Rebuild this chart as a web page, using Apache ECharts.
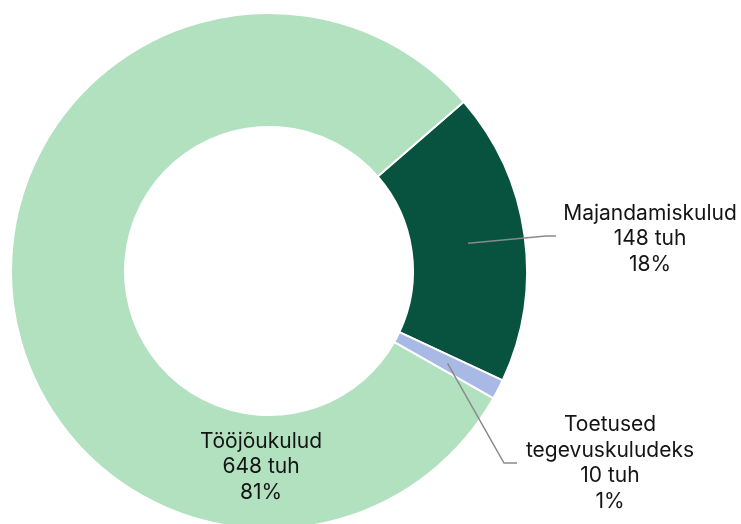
<!DOCTYPE html>
<html>
<head>
<meta charset="utf-8">
<script src="https://cdn.jsdelivr.net/npm/echarts@6/dist/echarts.min.js"></script>
<style>
  html, body { margin: 0; background: #fff; }
  #chart { width: 741px; height: 524px; }
</style>
</head>
<body>
<div id="chart"></div>
<script>
const categories = ['Majandamiskulud', 'Toetused\ntegevuskuludeks', 'Tööjõukulud']
const values = [148, 10, 648]
const percentLabels = ['18%', '1%', '81%']
const colors = ['#08533f', '#a9b9e5', '#b2e1bf']

const center = [269, 271]
const radius = [144, 258]
const startAngle = 41
// where each label block sits, and where its leader line bends
const labelSpots = [
  { x: 650, y: 239, bend: [546, 236], end: [556, 236] },
  { x: 610, y: 463, bend: [504, 463], end: [517, 463] },
  { x: 261, y: 467 }
]

const total = values.reduce((a, b) => a + b, 0)
// leader line starts in the middle of the ring, at the slice's mid angle
function lineStart(index) {
  let before = 0
  for (let i = 0; i < index; i++) before += values[i]
  const deg = startAngle - ((before + values[index] / 2) / total) * 360
  const rad = (deg * Math.PI) / 180
  const r = (radius[0] + radius[1]) / 2
  return [center[0] + r * Math.cos(rad), center[1] - r * Math.sin(rad)]
}

const pieData = categories.map((name, i) => ({
  name: name,
  value: values[i],
  itemStyle: { color: colors[i] },
  labelLine: { show: i < 2 }
}))

const myChart = echarts.init(document.getElementById('chart'))
const option = {
  animation: false,
  series: [
    {
      type: 'pie',
      z: 2,
      center: center,
      radius: radius,
      startAngle: startAngle,
      clockwise: true,
      label: { show: false },
      labelLine: { show: false },
      itemStyle: {
        borderColor: '#fff',
        borderWidth: 2
      },
      data: pieData
    },
    {
      // same ring, invisible, only carries the labels so leader lines sit on top
      type: 'pie',
      z: 3,
      silent: true,
      center: center,
      radius: radius,
      startAngle: startAngle,
      clockwise: true,
      avoidLabelOverlap: false,
      itemStyle: { color: 'transparent', borderWidth: 0 },
      label: {
        show: true,
        position: 'outside',
        fontFamily: 'Inter',
        fontSize: 21,
        lineHeight: 25.5,
        color: '#141414',
        align: 'center',
        formatter: p => p.name + '\n' + p.value + ' tuh\n' + percentLabels[p.dataIndex]
      },
      labelLine: {
        show: true,
        lineStyle: { color: '#8a8a8a', width: 1.5 }
      },
      labelLayout: params => {
        const s = labelSpots[params.dataIndex]
        const out = { x: s.x, y: s.y, align: 'center', verticalAlign: 'middle' }
        if (s.bend) out.labelLinePoints = [lineStart(params.dataIndex), s.bend, s.end]
        return out
      },
      data: pieData.map(d => ({ name: d.name, value: d.value, labelLine: d.labelLine }))
    }
  ]
}
myChart.setOption(option)
</script>
</body>
</html>
